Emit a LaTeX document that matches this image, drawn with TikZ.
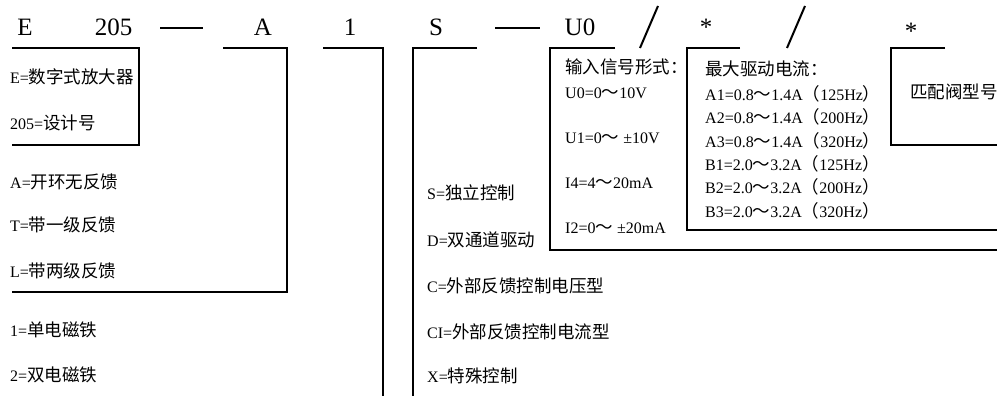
\documentclass[tikz,border=0pt]{standalone}
\usepackage{fontspec}
\setmainfont{Liberation Serif}
\newfontfamily\cjk{Noto Sans CJK SC}
\newcommand\zh[1]{{\cjk\fontsize{17.5}{17.5}\selectfont #1}}
\newcommand\txsize{\fontsize{16}{16}\selectfont}
\newcommand\hdsize{\fontsize{25}{25}\selectfont}
\begin{document}
\begin{tikzpicture}[x=1pt,y=-1pt,
  bk/.style={line width=2.2pt, line join=miter},
  sep/.style={line width=2pt},
  tx/.style={anchor=base west, inner sep=0pt, font=\txsize},
  hd/.style={anchor=base, inner sep=0pt, font=\hdsize},
]
\useasboundingbox (0,0) rectangle (1001,396);
% header
\node[hd] (hE) at (25,36) {E};
\node[hd] (h205) at (113.5,36) {205};
\node[hd] (hA) at (263,36) {A};
\node[hd] (h1) at (350,36) {1};
\node[hd] (hS) at (436,36) {S};
\node[hd] (hU) at (580,36) {U0};
\node[hd] (hs1) at (706,36) {*};
\node[hd] (hs2) at (911,40) {*};
\draw[sep] (160,28) -- (203,28);
\draw[sep] (495,28) -- (540,28);
\draw[sep] (640,48) -- (658,6);
\draw[sep] (787,48) -- (805,6);
% brackets
\draw[bk] (12,48) -- (139,48) -- (139,145) -- (12,145);
\draw[bk] (223,48) -- (287,48) -- (287,292) -- (12,292);
\draw[bk] (323,48) -- (383,48) -- (383,397);
\draw[bk] (477,48) -- (413,48) -- (413,397);
\draw[bk] (615,48) -- (550,48) -- (550,250) -- (997,250);
\draw[bk] (740,48) -- (687,48) -- (687,230) -- (997,230);
\draw[bk] (945,48) -- (891,48) -- (891,145) -- (997,145);
% left column
\node[tx] (l1) at (10,84) {E=\zh{数字式放大器}};
\node[tx] (l2) at (10,129) {205=\zh{设计号}};
\node[tx] (l3) at (10,188) {A=\zh{开环无反馈}};
\node[tx] (l4) at (10,231) {T=\zh{带一级反馈}};
\node[tx] (l5) at (10,277) {L=\zh{带两级反馈}};
\node[tx] (l6) at (10,336) {1=\zh{单电磁铁}};
\node[tx] (l7) at (10,381) {2=\zh{双电磁铁}};
% middle column
\node[tx] (m1) at (427,199) {S=\zh{独立控制}};
\node[tx] (m2) at (427,246) {D=\zh{双通道驱动}};
\node[tx] (m3) at (427,292) {C=\zh{外部反馈控制电压型}};
\node[tx] (m4) at (427,338) {CI=\zh{外部反馈控制电流型}};
\node[tx] (m5) at (427,382) {X=\zh{特殊控制}};
% input signal
\node[tx] (u0) at (565,74) {\zh{输入信号形式：}};
\node[tx] (u1) at (565,98) {U0=0\zh{～}10V};
\node[tx] (u2) at (565,143) {U1=0\zh{～} ±10V};
\node[tx] (u3) at (565,188) {I4=4\zh{～}20mA};
\node[tx] (u4) at (565,233) {I2=0\zh{～} ±20mA};
% drive current
\node[tx] (c0) at (705,76) {\zh{最大驱动电流：}};
\node[tx] (c1) at (705,100) {A1=0.8\zh{～}1.4A\zh{（}125Hz\zh{）}};
\node[tx] (c2) at (705,123) {A2=0.8\zh{～}1.4A\zh{（}200Hz\zh{）}};
\node[tx] (c3) at (705,147) {A3=0.8\zh{～}1.4A\zh{（}320Hz\zh{）}};
\node[tx] (c4) at (705,170) {B1=2.0\zh{～}3.2A\zh{（}125Hz\zh{）}};
\node[tx] (c5) at (705,193) {B2=2.0\zh{～}3.2A\zh{（}200Hz\zh{）}};
\node[tx] (c6) at (705,217) {B3=2.0\zh{～}3.2A\zh{（}320Hz\zh{）}};
% valve
\node[tx] (v0) at (910,99) {\zh{匹配阀型号}};
\end{tikzpicture}
\end{document}
